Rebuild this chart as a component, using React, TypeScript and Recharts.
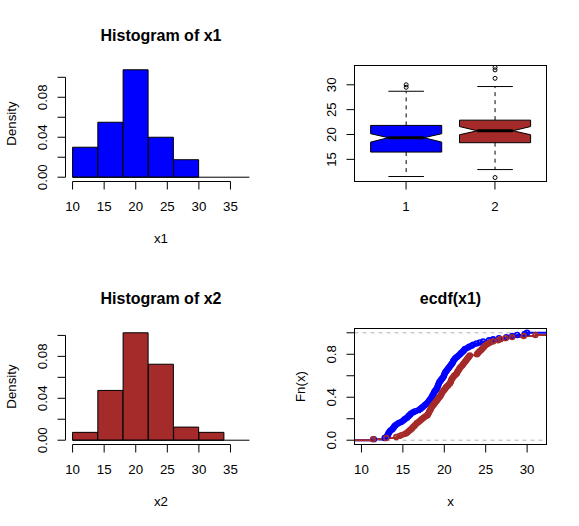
import React from "react";
import { ComposedChart, Bar, Line, XAxis, YAxis, ReferenceLine } from "recharts";

const FONT = '"Liberation Sans", Arial, Helvetica, sans-serif';
const BLUE = "#0000FF";
const BROWN = "#A52A2A";
const GRAY70 = "#B3B3B3";

// histograms: bins of width 4 from 10 to 38
const histRange = [10, 38];
const binMids = [12, 16, 20, 24, 28, 32, 36];
const x1Density = [0.03, 0.055, 0.1075, 0.04, 0.0175, 0, 0];
const x2Density = [0.0075, 0.0475, 0.1025, 0.0725, 0.0125, 0.0075, 0];
const histXTicks = [10, 15, 20, 25, 30, 35];
const histXLabels = ["10", "15", "20", "25", "30", "35"];
const histYTicks = [0, 0.02, 0.04, 0.06, 0.08, 0.1];
const histYLabels = ["0.00", "", "0.04", "", "0.08", ""];

// notched boxplot of x1 (1) and x2 (2)
const boxGroups = ["1", "2"];
const boxColors = [BLUE, BROWN];
const boxLow = [11.55, 12.95];
const boxQ1 = [16.47, 18.35];
const boxNotchLow = [18.47, 19.95];
const boxMedian = [19.36, 20.76];
const boxNotchHigh = [20.16, 21.6];
const boxQ3 = [21.83, 22.89];
const boxHigh = [28.7, 29.65];
const boxOutliers = [
  [29.5, 30.0],
  [11.35, 31.3, 33.0, 33.5],
];
const boxYDomain = [10.55, 33.88];
const boxYTicks = [15, 20, 25, 30];
const boxYLabels = ["15", "20", "25", "30"];

// sorted samples
const x1Values = [
  11.5, 12.8, 13.0, 13.1, 13.2, 13.25, 13.3, 13.4, 13.5, 13.7,
  13.8, 13.9, 14.0, 14.1, 14.3, 14.5, 14.8, 15.0, 15.15, 15.3,
  15.5, 15.65, 15.75, 15.9, 16.0, 16.25, 16.5, 16.9, 17.1, 17.25,
  17.4, 17.55, 17.7, 17.85, 18.0, 18.1, 18.2, 18.3, 18.4, 18.5,
  18.55, 18.6, 18.7, 18.75, 18.8, 18.9, 19.0, 19.1, 19.15, 19.2,
  19.25, 19.3, 19.35, 19.4, 19.5, 19.6, 19.7, 19.8, 19.9, 19.95,
  20.0, 20.05, 20.1, 20.2, 20.3, 20.4, 20.5, 20.6, 20.7, 20.8,
  20.9, 21.0, 21.05, 21.1, 21.2, 21.3, 21.45, 21.6, 21.75, 21.9,
  22.0, 22.15, 22.3, 22.4, 22.5, 22.8, 23.0, 23.3, 23.5, 23.9,
  24.3, 24.7, 25.4, 25.9, 26.6, 27.5, 28.2, 28.8, 29.7, 30.0,
];
const x2Values = [
  11.4, 13.0, 14.2, 14.6, 14.9, 15.3, 15.5, 15.65, 15.8, 15.95,
  16.1, 16.2, 16.35, 16.45, 16.6, 16.7, 16.9, 17.05, 17.2, 17.35,
  17.5, 17.7, 17.95, 18.0, 18.1, 18.15, 18.2, 18.3, 18.35, 18.4,
  18.5, 18.6, 18.7, 18.8, 18.9, 19.0, 19.1, 19.2, 19.3, 19.4,
  19.5, 19.6, 19.65, 19.7, 19.8, 19.9, 20.0, 20.1, 20.2, 20.3,
  20.45, 20.55, 20.7, 20.75, 20.8, 20.85, 20.9, 21.0, 21.1, 21.2,
  21.35, 21.5, 21.55, 21.6, 21.7, 21.8, 21.85, 21.95, 22.1, 22.2,
  22.3, 22.4, 22.5, 22.6, 22.7, 22.8, 22.9, 23.0, 23.1, 23.95,
  24.05, 24.15, 24.3, 24.45, 24.55, 24.7, 24.8, 24.9, 25.1, 25.3,
  25.55, 25.9, 26.5, 26.8, 27.4, 28.2, 29.6, 31.0, 32.7, 33.0,
];
const ecdfXDomain = [9.16, 32.34];
const ecdfXTicks = [10, 15, 20, 25, 30];
const ecdfXLabels = ["10", "15", "20", "25", "30"];
const ecdfYTicks = [0, 0.2, 0.4, 0.6, 0.8, 1];
const ecdfYLabels = ["0.0", "", "0.4", "", "0.8", ""];

// layout
type Rect = { left: number; top: number; right: number; bottom: number };
const YAXIS_W = 40;
const XAXIS_H = 30;
const TICK = 8;
const FS = 13.3;

const cells: Rect[] = [
  { left: 0, top: 0, right: 289, bottom: 263 },
  { left: 289, top: 0, right: 579, bottom: 263 },
  { left: 0, top: 263, right: 289, bottom: 526 },
  { left: 289, top: 263, right: 579, bottom: 526 },
];
const plots: Rect[] = [
  { left: 65.5, top: 65.5, right: 256.5, bottom: 181.5 },
  { left: 354.5, top: 65.5, right: 546.5, bottom: 181.5 },
  { left: 65.5, top: 328.5, right: 256.5, bottom: 444.5 },
  { left: 354.5, top: 328.5, right: 546.5, bottom: 444.5 },
];

const marginsFor = (cell: Rect, plot: Rect) => ({
  left: plot.left - cell.left - YAXIS_W,
  top: plot.top - cell.top,
  right: cell.right - plot.right,
  bottom: cell.bottom - plot.bottom - XAXIS_H,
});

const xTick = (labels: string[]) => (p: any) => (
  <text key={p.index} x={p.x} y={p.y} dy="0.71em" textAnchor="middle" fontSize={FS} fontFamily={FONT} fill="#000">
    {labels[p.index]}
  </text>
);

const yTick = (labels: string[]) => (p: any) => (
  <text
    key={p.index}
    x={p.x}
    y={p.y}
    transform={`rotate(-90 ${p.x} ${p.y})`}
    textAnchor="middle"
    fontSize={FS}
    fontFamily={FONT}
    fill="#000"
  >
    {labels[p.index]}
  </text>
);

const Histogram = ({ density, fill, cell, plot }: { density: number[]; fill: string; cell: Rect; plot: Rect }) => {
  const maxD = Math.max(...density);
  const yDomain = [-0.04 * maxD, 1.04 * maxD];
  const span = histRange[1] - histRange[0];
  const xDomain = [histRange[0] - 0.04 * span, histRange[1] + 0.04 * span];
  const rows = binMids.map((m, i) => ({ mid: m, density: density[i] }));
  const lastX = histXTicks[histXTicks.length - 1];
  const lastY = histYTicks[histYTicks.length - 1];

  return (
    <div style={{ position: "absolute", left: cell.left, top: cell.top }}>
      <ComposedChart
        width={cell.right - cell.left}
        height={cell.bottom - cell.top}
        data={rows}
        margin={marginsFor(cell, plot)}
        barCategoryGap={0}
        barGap={0}
      >
        <XAxis
          dataKey="mid"
          type="number"
          domain={xDomain}
          allowDataOverflow
          ticks={histXTicks}
          interval={0}
          height={XAXIS_H}
          axisLine={false}
          tickSize={TICK}
          tickMargin={12}
          stroke="#000"
          tick={xTick(histXLabels)}
        />
        <YAxis
          type="number"
          domain={yDomain}
          allowDataOverflow
          ticks={histYTicks}
          interval={0}
          width={YAXIS_W}
          axisLine={false}
          tickSize={TICK}
          tickMargin={10}
          stroke="#000"
          tick={yTick(histYLabels)}
        />
        <ReferenceLine
          segment={[{ x: histRange[0], y: 0 }, { x: histRange[1], y: 0 }]}
          stroke="#000"
          ifOverflow="visible"
        />
        <Bar dataKey="density" fill={fill} stroke="#000" strokeWidth={1} isAnimationActive={false} />
        <ReferenceLine
          segment={[{ x: histXTicks[0], y: yDomain[0] }, { x: lastX, y: yDomain[0] }]}
          stroke="#000"
          ifOverflow="visible"
        />
        <ReferenceLine
          segment={[{ x: xDomain[0], y: histYTicks[0] }, { x: xDomain[0], y: lastY }]}
          stroke="#000"
          ifOverflow="visible"
        />
      </ComposedChart>
    </div>
  );
};

const NotchedBox = (props: any) => {
  const { x, y, width, height, payload } = props;
  const top = Math.min(y, y + height);
  const h = Math.abs(height);
  const [lo, hi] = payload.span;
  const py = (v: number) => top + ((hi - v) / (hi - lo)) * h;
  const cx = x + width / 2;
  const hw = width / 2;
  const nw = hw / 2;
  const pts = [
    [cx - hw, py(payload.q1)],
    [cx - hw, py(payload.notchLow)],
    [cx - nw, py(payload.median)],
    [cx - hw, py(payload.notchHigh)],
    [cx - hw, py(payload.q3)],
    [cx + hw, py(payload.q3)],
    [cx + hw, py(payload.notchHigh)],
    [cx + nw, py(payload.median)],
    [cx + hw, py(payload.notchLow)],
    [cx + hw, py(payload.q1)],
  ]
    .map((p) => p.join(","))
    .join(" ");
  return (
    <g>
      <line x1={cx} x2={cx} y1={py(payload.q3)} y2={py(hi)} stroke="#000" strokeDasharray="4 4" />
      <line x1={cx} x2={cx} y1={py(payload.q1)} y2={py(lo)} stroke="#000" strokeDasharray="4 4" />
      <line x1={cx - nw} x2={cx + nw} y1={py(hi)} y2={py(hi)} stroke="#000" />
      <line x1={cx - nw} x2={cx + nw} y1={py(lo)} y2={py(lo)} stroke="#000" />
      <polygon points={pts} fill={payload.color} stroke="#000" strokeWidth={1} />
      <line x1={cx - nw} x2={cx + nw} y1={py(payload.median)} y2={py(payload.median)} stroke="#000" strokeWidth={3} />
      {payload.outliers.map((o: number, i: number) => (
        <circle key={i} cx={cx} cy={py(o)} r={2} fill="none" stroke="#000" strokeWidth={1} />
      ))}
    </g>
  );
};

const BoxPanel = ({ cell, plot }: { cell: Rect; plot: Rect }) => {
  const rows = boxGroups.map((g, i) => ({
    group: g,
    span: [boxLow[i], boxHigh[i]],
    q1: boxQ1[i],
    notchLow: boxNotchLow[i],
    median: boxMedian[i],
    notchHigh: boxNotchHigh[i],
    q3: boxQ3[i],
    outliers: boxOutliers[i],
    color: boxColors[i],
  }));
  // R: xlim c(0.5, 2.5) widened by 4%
  const unit = (plot.right - plot.left) / (boxGroups.length + 0.08 * boxGroups.length);
  const pad = 0.04 * boxGroups.length * unit;
  return (
    <div style={{ position: "absolute", left: cell.left, top: cell.top }}>
      <ComposedChart
        width={cell.right - cell.left}
        height={cell.bottom - cell.top}
        data={rows}
        margin={marginsFor(cell, plot)}
        barCategoryGap={0}
      >
        <XAxis
          dataKey="group"
          type="category"
          padding={{ left: pad, right: pad }}
          interval={0}
          height={XAXIS_H}
          axisLine={false}
          tickSize={TICK}
          tickMargin={12}
          stroke="#000"
          tick={xTick(boxGroups)}
        />
        <YAxis
          type="number"
          domain={boxYDomain}
          allowDataOverflow
          ticks={boxYTicks}
          interval={0}
          width={YAXIS_W}
          axisLine={false}
          tickSize={TICK}
          tickMargin={10}
          stroke="#000"
          tick={yTick(boxYLabels)}
        />
        <Bar dataKey="span" barSize={0.8 * unit} shape={NotchedBox} isAnimationActive={false} />
      </ComposedChart>
    </div>
  );
};

const ecdfRows = (values: number[]) => {
  const n = values.length;
  const rows = [{ x: ecdfXDomain[0], F: 0, knot: false }];
  values.forEach((v, i) => rows.push({ x: v, F: (i + 1) / n, knot: true }));
  rows.push({ x: Math.max(ecdfXDomain[1], values[n - 1]), F: 1, knot: false });
  return rows;
};

const ecdfDot = (color: string) => (p: any) =>
  p.payload.knot ? (
    <circle key={p.index} cx={p.cx} cy={p.cy} r={2.4} fill="none" stroke={color} strokeWidth={1.6} />
  ) : (
    <g key={p.index} />
  );

const EcdfPanel = ({ cell, plot }: { cell: Rect; plot: Rect }) => (
  <div style={{ position: "absolute", left: cell.left, top: cell.top }}>
    <ComposedChart width={cell.right - cell.left} height={cell.bottom - cell.top} margin={marginsFor(cell, plot)}>
      <XAxis
        dataKey="x"
        type="number"
        domain={ecdfXDomain}
        allowDataOverflow
        ticks={ecdfXTicks}
        interval={0}
        height={XAXIS_H}
        axisLine={false}
        tickSize={TICK}
        tickMargin={12}
        stroke="#000"
        tick={xTick(ecdfXLabels)}
      />
      <YAxis
        type="number"
        domain={[-0.04, 1.04]}
        allowDataOverflow
        ticks={ecdfYTicks}
        interval={0}
        width={YAXIS_W}
        axisLine={false}
        tickSize={TICK}
        tickMargin={10}
        stroke="#000"
        tick={yTick(ecdfYLabels)}
      />
      <ReferenceLine y={0} stroke={GRAY70} strokeDasharray="4 4" />
      <ReferenceLine y={1} stroke={GRAY70} strokeDasharray="4 4" />
      <Line
        data={ecdfRows(x1Values)}
        dataKey="F"
        type="stepAfter"
        stroke={BLUE}
        strokeWidth={2}
        dot={ecdfDot(BLUE)}
        activeDot={false}
        isAnimationActive={false}
      />
      <Line
        data={ecdfRows(x2Values)}
        dataKey="F"
        type="stepAfter"
        stroke={BROWN}
        strokeWidth={2}
        dot={ecdfDot(BROWN)}
        activeDot={false}
        isAnimationActive={false}
      />
    </ComposedChart>
  </div>
);

const cxOf = (r: Rect) => (r.left + r.right) / 2;
const cyOf = (r: Rect) => (r.top + r.bottom) / 2;

export default function App() {
  const txt = { fontFamily: FONT, fill: "#000" };
  return (
    <div style={{ position: "absolute", left: 0, top: 0, width: 579, height: 526, background: "#fff", overflow: "hidden" }}>
      <Histogram density={x1Density} fill={BLUE} cell={cells[0]} plot={plots[0]} />
      <BoxPanel cell={cells[1]} plot={plots[1]} />
      <Histogram density={x2Density} fill={BROWN} cell={cells[2]} plot={plots[2]} />
      <EcdfPanel cell={cells[3]} plot={plots[3]} />

      <svg width={579} height={526} style={{ position: "absolute", left: 0, top: 0, pointerEvents: "none" }}>
        {/* frames round the boxplot and the ecdf */}
        {[plots[1], plots[3]].map((p, i) => (
          <rect key={i} x={p.left} y={p.top} width={p.right - p.left} height={p.bottom - p.top} fill="none" stroke="#000" />
        ))}
        <text {...txt} x={cxOf(plots[0])} y={41} fontSize={16} fontWeight="bold" textAnchor="middle">Histogram of x1</text>
        <text {...txt} x={cxOf(plots[2])} y={304} fontSize={16} fontWeight="bold" textAnchor="middle">Histogram of x2</text>
        <text {...txt} x={cxOf(plots[3])} y={304} fontSize={16} fontWeight="bold" textAnchor="middle">ecdf(x1)</text>
        <text {...txt} x={cxOf(plots[0])} y={243} fontSize={FS} textAnchor="middle">x1</text>
        <text {...txt} x={cxOf(plots[2])} y={506} fontSize={FS} textAnchor="middle">x2</text>
        <text {...txt} x={cxOf(plots[3])} y={506} fontSize={FS} textAnchor="middle">x</text>
        <text {...txt} x={15.5} y={cyOf(plots[0])} fontSize={FS} textAnchor="middle" transform={`rotate(-90 15.5 ${cyOf(plots[0])})`}>Density</text>
        <text {...txt} x={15.5} y={cyOf(plots[2])} fontSize={FS} textAnchor="middle" transform={`rotate(-90 15.5 ${cyOf(plots[2])})`}>Density</text>
        <text {...txt} x={304.5} y={cyOf(plots[3])} fontSize={FS} textAnchor="middle" transform={`rotate(-90 304.5 ${cyOf(plots[3])})`}>Fn(x)</text>
      </svg>
    </div>
  );
}
